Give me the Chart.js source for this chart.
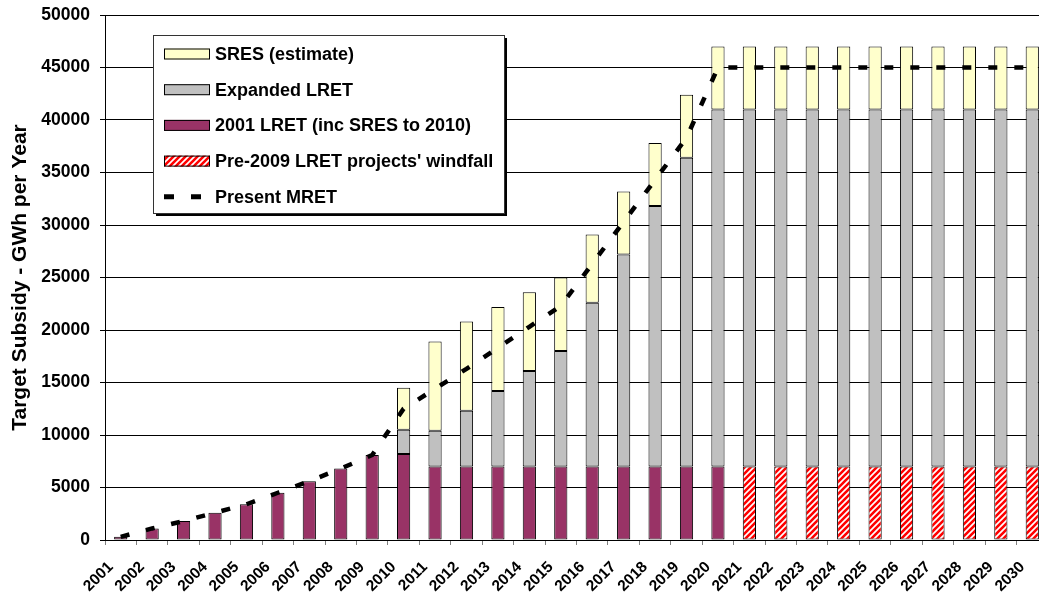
<!DOCTYPE html>
<html>
<head>
<meta charset="utf-8">
<script src="https://cdn.jsdelivr.net/npm/chart.js@4/dist/chart.umd.min.js"></script>
<style>
  html, body { margin: 0; padding: 0; background: #fff; overflow: hidden; }
  #wrap { width: 1060px; height: 598px; }
</style>
</head>
<body>
<div id="wrap"><canvas id="c" width="1060" height="598"></canvas></div>
<script>
// Years on the category axis
const years = ['2001','2002','2003','2004','2005','2006','2007','2008','2009','2010',
               '2011','2012','2013','2014','2015','2016','2017','2018','2019','2020',
               '2021','2022','2023','2024','2025','2026','2027','2028','2029','2030'];

// GWh per year, stacked from the bottom up
const lret2001 = [300, 1100, 1800, 2600, 3400, 4500, 5600, 6800, 8100, 8200,
                  7000, 7000, 7000, 7000, 7000, 7000, 7000, 7000, 7000, 7000,
                  null, null, null, null, null, null, null, null, null, null];
const windfall = [null, null, null, null, null, null, null, null, null, null,
                  null, null, null, null, null, null, null, null, null, null,
                  7000, 7000, 7000, 7000, 7000, 7000, 7000, 7000, 7000, 7000];
const expandedLret = [null, null, null, null, null, null, null, null, null, 2300,
                      3400, 5300, 7200, 9100, 11000, 15600, 20200, 24800, 29400, 34000,
                      34000, 34000, 34000, 34000, 34000, 34000, 34000, 34000, 34000, 34000];
const sresEstimate = [null, null, null, null, null, null, null, null, null, 4000,
                      8500, 8500, 8000, 7500, 7000, 6500, 6000, 6000, 6000, 6000,
                      6000, 6000, 6000, 6000, 6000, 6000, 6000, 6000, 6000, 6000];
// Present MRET target trajectory
const presentMret = [300, 1100, 1800, 2600, 3400, 4500, 5600, 6800, 8100, 12500,
                     14400, 16300, 18300, 20300, 22300, 26300, 30300, 34300, 38300, 45000,
                     45000, 45000, 45000, 45000, 45000, 45000, 45000, 45000, 45000, 45000];

const yTitle = 'Target Subsidy - GWh per Year';
const FONT = '"Liberation Sans", Arial, sans-serif';

// Red / white diagonal hatch
function makeHatch() {
  const s = 6;
  const p = document.createElement('canvas');
  p.width = s; p.height = s;
  const g = p.getContext('2d');
  g.fillStyle = '#ffffff';
  g.fillRect(0, 0, s, s);
  g.strokeStyle = '#ff0000';
  g.lineWidth = 2.6;
  g.beginPath();
  g.moveTo(-1, s + 1); g.lineTo(s + 1, -1);
  g.moveTo(-1, 1); g.lineTo(1, -1);
  g.moveTo(s - 1, s + 1); g.lineTo(s + 1, s - 1);
  g.stroke();
  return g.createPattern(p, 'repeat');
}
const hatch = makeHatch();

// Boxed legend with drop shadow inside the plot area
const boxLegend = {
  id: 'boxLegend',
  afterDraw(chart) {
    const ctx = chart.ctx;
    const ca = chart.chartArea;
    const x = ca.left + 48, y = ca.top + 20, w = 351, h = 178;
    const ds = chart.data.datasets;
    const entries = [ds[4], ds[3], ds[1], ds[2], ds[0]];
    ctx.save();
    ctx.fillStyle = '#000';
    ctx.fillRect(x + 3, y + 3, w, h);
    ctx.fillStyle = '#fff';
    ctx.fillRect(x, y, w, h);
    ctx.strokeStyle = '#333';
    ctx.lineWidth = 1;
    ctx.strokeRect(x + 0.5, y + 0.5, w, h);
    ctx.font = 'bold 18px ' + FONT;
    ctx.textBaseline = 'middle';
    ctx.textAlign = 'left';
    entries.forEach((d, i) => {
      const cy = y + 19 + i * 35.7;
      const sx = x + 11;
      if (d.type === 'line') {
        ctx.strokeStyle = d.borderColor;
        ctx.lineWidth = 5;
        ctx.setLineDash([10, 17]);
        ctx.beginPath();
        ctx.moveTo(sx, cy);
        ctx.lineTo(sx + 46, cy);
        ctx.stroke();
        ctx.setLineDash([]);
      } else {
        ctx.fillStyle = d.backgroundColor;
        ctx.fillRect(sx, cy - 5.5, 46, 11);
        ctx.strokeStyle = '#000';
        ctx.lineWidth = 1;
        ctx.strokeRect(sx + 0.5, cy - 5, 45, 10);
      }
      ctx.fillStyle = '#000';
      ctx.fillText(d.label, x + 62, cy + 1);
    });
    ctx.restore();
  }
};

const barCommon = {
  type: 'bar',
  borderColor: '#000',
  borderWidth: 1,
  borderSkipped: false,
  barPercentage: 0.42,
  categoryPercentage: 1.0,
  order: 1
};

new Chart(document.getElementById('c'), {
  data: {
    labels: years,
    datasets: [
      {
        type: 'line',
        label: 'Present MRET',
        data: presentMret,
        borderColor: '#000',
        borderWidth: 4.5,
        borderDash: [9, 17],
        borderCapStyle: 'butt',
        pointRadius: 0,
        fill: false,
        tension: 0,
        stack: 'mret',
        order: 0
      },
      Object.assign({ label: '2001 LRET (inc SRES to 2010)', data: lret2001, backgroundColor: '#993366', stack: 'bars' }, barCommon),
      Object.assign({ label: "Pre-2009 LRET projects' windfall", data: windfall, backgroundColor: hatch, stack: 'bars' }, barCommon),
      Object.assign({ label: 'Expanded LRET', data: expandedLret, backgroundColor: '#c0c0c0', stack: 'bars' }, barCommon),
      Object.assign({ label: 'SRES (estimate)', data: sresEstimate, backgroundColor: '#ffffcc', stack: 'bars' }, barCommon)
    ]
  },
  options: {
    responsive: false,
    devicePixelRatio: 1,
    animation: false,
    layout: { padding: { top: 15, right: 12, bottom: 0, left: 0 } },
    plugins: { legend: { display: false }, tooltip: { enabled: false } },
    scales: {
      x: {
        stacked: true,
        offset: true,
        grid: { display: true, drawOnChartArea: false, drawTicks: true, tickLength: 5, color: '#808080', offset: true },
        border: { display: true, color: '#000', width: 1 },
        ticks: {
          autoSkip: false, maxRotation: 45, minRotation: 45, padding: 13, labelOffset: -10,
          color: '#000', font: { family: FONT, size: 15.5, weight: 'bold' }
        },
        afterFit(scale) { scale.height = 58; scale.paddingLeft = 0; scale.paddingRight = 0; }
      },
      y: {
        stacked: true,
        min: 0, max: 50000,
        ticks: {
          stepSize: 5000, padding: 10, color: '#000',
          font: { family: FONT, size: 17.5, weight: 'bold' },
          callback: (v) => String(v)
        },
        grid: { color: '#000', lineWidth: 1, drawTicks: true, tickLength: 5 },
        border: { display: true, color: '#000', width: 1 },
        title: {
          display: true, text: yTitle, color: '#000',
          font: { family: FONT, size: 21, weight: 'bold' },
          padding: { top: 8, bottom: 0 }
        },
        afterFit(scale) { scale.width = 105; scale.paddingTop = 0; scale.paddingBottom = 0; }
      }
    }
  },
  plugins: [boxLegend]
});
</script>
</body>
</html>
